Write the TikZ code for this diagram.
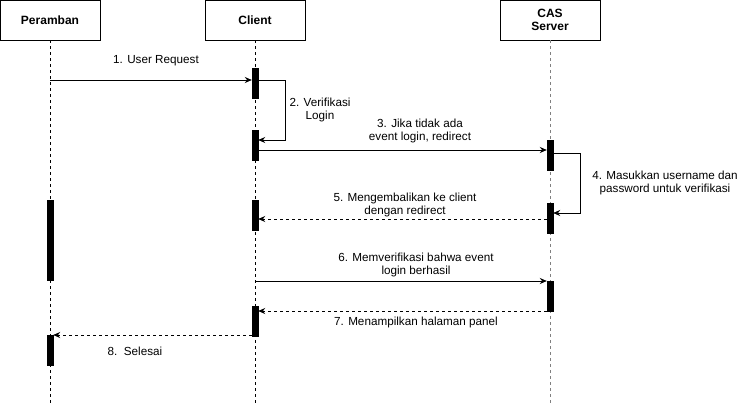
\documentclass[tikz,border=0pt]{standalone}
\usepackage{fontspec}
\setmainfont{Liberation Sans}
\usetikzlibrary{arrows.meta,positioning}

\begin{document}
\begin{tikzpicture}[x=1pt,y=-1pt,
    actor/.style={draw,line width=0.8pt,minimum width=100pt,minimum height=40pt,
        inner sep=2pt,align=center,font=\fontsize{12}{13.5}\selectfont\bfseries},
    bar/.style={fill=black,draw=black,minimum width=6pt,minimum height=30pt,inner sep=0pt},
    life/.style={line width=0.7pt,dash pattern=on 3pt off 3pt},
    msg/.style={line width=0.8pt,-{Stealth[length=7pt,width=6pt]}},
    reply/.style={msg,dash pattern=on 3pt off 3pt},
    lbl/.style={align=center,font=\fontsize{11.7}{13.5}\selectfont}]
    \useasboundingbox (0,0) rectangle (751,403);

    % lifeline heads
    \node[actor] (peramban) at (50,20) {Peramban};
    \node[actor] (client) at (255,20) {Client};
    \node[actor] (cas) at (550,20) {CAS\\Server};

    % lifelines
    \coordinate (pend) at (50,403);
    \coordinate (cend) at (255,403);
    \coordinate (send) at (550,403);
    \draw[life] (peramban.south) -- (pend);
    \draw[life] (client.south) -- (cend);
    \draw[life,gray] (cas.south) -- (send);

    % activations
    \node[bar,anchor=north] (c1) at (255,68) {};
    \node[bar,anchor=north] (c2) at (255,130) {};
    \node[bar,anchor=north] (s1) at (550,140) {};
    \node[bar,anchor=north] (s2) at (550,203) {};
    \node[bar,anchor=north,minimum height=80pt] (p1) at (50,200) {};
    \node[bar,anchor=north] (c3) at (255,200) {};
    \node[bar,anchor=north] (s3) at (550,281) {};
    \node[bar,anchor=north] (c4) at (255,306) {};
    \node[bar,anchor=north] (p2) at (50,335) {};

    % message levels
    \coordinate (m1) at (50,80);
    \coordinate (m2) at (255,140);
    \coordinate (m3) at (255,150);
    \coordinate (m4a) at (550,153);
    \coordinate (m4b) at (550,213);
    \coordinate (m5) at (550,219);
    \coordinate (m6) at (255,281);
    \coordinate (m7) at (550,311);
    \coordinate (m8) at (255,335);

    % messages
    \draw[msg] (m1) -- (m1 -| c1.west);
    \draw[msg] (c1.east |- m1) -- ++(27,0) |- (c2.east |- m2);
    \draw[msg] (c2.east |- m3) -- (m3 -| s1.west);
    \draw[msg,line width=0.6pt] (s1.east |- m4a) -- ++(27,0) |- (s2.east |- m4b);
    \draw[reply] (s2.west |- m5) -- (m5 -| c3.east);
    \draw[msg] (m6) -- (m6 -| s3.west);
    \draw[reply] (s3.west |- m7) -- (m7 -| c4.east);
    \draw[reply] (c4.west |- m8) -- (p2.north east);

    % labels
    \node[lbl] (l1) at (156,61) {1. User Request};
    \node[lbl] (l2) at (320,110) {2. Verifikasi\\Login};
    \node[lbl] (l3) at (420,131) {3. Jika tidak ada\\event login, redirect};
    \node[lbl] (l4) at (665,183) {4. Masukkan username dan\\password untuk verifikasi};
    \node[lbl] (l5) at (405,205) {5. Mengembalikan ke client\\dengan redirect};
    \node[lbl] (l6) at (416,265) {6. Memverifikasi bahwa event\\login berhasil};
    \node[lbl] (l7) at (416,322) {7. Menampilkan halaman panel};
    \node[lbl] (l8) at (135,351) {8.\ \ Selesai};
\end{tikzpicture}
\end{document}
